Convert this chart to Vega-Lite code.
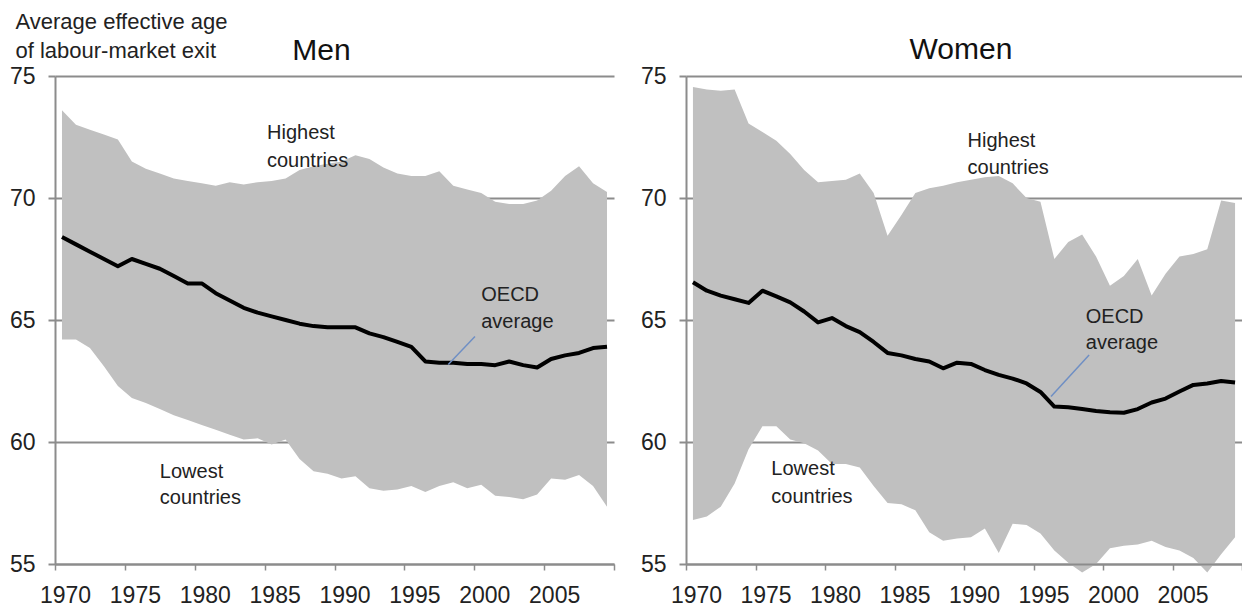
{
  "$schema": "https://vega.github.io/schema/vega-lite/v6.json",
  "autosize": {"type": "pad"},
  "padding": {"left": 9, "top": 10, "right": 0, "bottom": 0},
  "bounds": "flush",
  "spacing": 72,
  "config": {
    "font": "Liberation Sans",
    "view": {"stroke": null}
  },
  "datasets": {
    "series": [
      {"sex": "Men", "year": 1970, "low": 64.2, "avg": 68.4, "high": 73.6},
      {"sex": "Men", "year": 1971, "low": 64.2, "avg": 68.1, "high": 73.0},
      {"sex": "Men", "year": 1972, "low": 63.85, "avg": 67.8, "high": 72.8},
      {"sex": "Men", "year": 1973, "low": 63.1, "avg": 67.5, "high": 72.6},
      {"sex": "Men", "year": 1974, "low": 62.3, "avg": 67.2, "high": 72.4},
      {"sex": "Men", "year": 1975, "low": 61.8, "avg": 67.5, "high": 71.5},
      {"sex": "Men", "year": 1976, "low": 61.6, "avg": 67.3, "high": 71.2},
      {"sex": "Men", "year": 1977, "low": 61.35, "avg": 67.1, "high": 71.0},
      {"sex": "Men", "year": 1978, "low": 61.1, "avg": 66.8, "high": 70.8},
      {"sex": "Men", "year": 1979, "low": 60.9, "avg": 66.5, "high": 70.7},
      {"sex": "Men", "year": 1980, "low": 60.7, "avg": 66.5, "high": 70.6},
      {"sex": "Men", "year": 1981, "low": 60.5, "avg": 66.1, "high": 70.5},
      {"sex": "Men", "year": 1982, "low": 60.3, "avg": 65.8, "high": 70.65},
      {"sex": "Men", "year": 1983, "low": 60.1, "avg": 65.5, "high": 70.55},
      {"sex": "Men", "year": 1984, "low": 60.15, "avg": 65.3, "high": 70.65},
      {"sex": "Men", "year": 1985, "low": 59.9, "avg": 65.15, "high": 70.7},
      {"sex": "Men", "year": 1986, "low": 60.1, "avg": 65.0, "high": 70.8},
      {"sex": "Men", "year": 1987, "low": 59.3, "avg": 64.85, "high": 71.15},
      {"sex": "Men", "year": 1988, "low": 58.8, "avg": 64.75, "high": 71.3},
      {"sex": "Men", "year": 1989, "low": 58.7, "avg": 64.7, "high": 71.4},
      {"sex": "Men", "year": 1990, "low": 58.5, "avg": 64.7, "high": 71.5},
      {"sex": "Men", "year": 1991, "low": 58.6, "avg": 64.7, "high": 71.75},
      {"sex": "Men", "year": 1992, "low": 58.1, "avg": 64.45, "high": 71.6},
      {"sex": "Men", "year": 1993, "low": 58.0, "avg": 64.3, "high": 71.25},
      {"sex": "Men", "year": 1994, "low": 58.05, "avg": 64.1, "high": 71.0},
      {"sex": "Men", "year": 1995, "low": 58.2, "avg": 63.9, "high": 70.9},
      {"sex": "Men", "year": 1996, "low": 57.95, "avg": 63.3, "high": 70.9},
      {"sex": "Men", "year": 1997, "low": 58.2, "avg": 63.25, "high": 71.1},
      {"sex": "Men", "year": 1998, "low": 58.35, "avg": 63.25, "high": 70.5},
      {"sex": "Men", "year": 1999, "low": 58.1, "avg": 63.2, "high": 70.35},
      {"sex": "Men", "year": 2000, "low": 58.25, "avg": 63.2, "high": 70.2},
      {"sex": "Men", "year": 2001, "low": 57.8, "avg": 63.15, "high": 69.85},
      {"sex": "Men", "year": 2002, "low": 57.75, "avg": 63.3, "high": 69.75},
      {"sex": "Men", "year": 2003, "low": 57.65, "avg": 63.15, "high": 69.75},
      {"sex": "Men", "year": 2004, "low": 57.85, "avg": 63.05, "high": 69.9},
      {"sex": "Men", "year": 2005, "low": 58.5, "avg": 63.4, "high": 70.3},
      {"sex": "Men", "year": 2006, "low": 58.45, "avg": 63.55, "high": 70.9},
      {"sex": "Men", "year": 2007, "low": 58.65, "avg": 63.65, "high": 71.3},
      {"sex": "Men", "year": 2008, "low": 58.2, "avg": 63.85, "high": 70.6},
      {"sex": "Men", "year": 2009, "low": 57.35, "avg": 63.9, "high": 70.25},
      {"sex": "Women", "year": 1970, "low": 56.8, "avg": 66.55, "high": 74.55},
      {"sex": "Women", "year": 1971, "low": 56.95, "avg": 66.2, "high": 74.45},
      {"sex": "Women", "year": 1972, "low": 57.35, "avg": 66.0, "high": 74.4},
      {"sex": "Women", "year": 1973, "low": 58.3, "avg": 65.85, "high": 74.45},
      {"sex": "Women", "year": 1974, "low": 59.7, "avg": 65.7, "high": 73.05},
      {"sex": "Women", "year": 1975, "low": 60.65, "avg": 66.2, "high": 72.7},
      {"sex": "Women", "year": 1976, "low": 60.65, "avg": 65.97, "high": 72.35},
      {"sex": "Women", "year": 1977, "low": 60.1, "avg": 65.72, "high": 71.8},
      {"sex": "Women", "year": 1978, "low": 59.95, "avg": 65.35, "high": 71.15},
      {"sex": "Women", "year": 1979, "low": 59.65, "avg": 64.9, "high": 70.65},
      {"sex": "Women", "year": 1980, "low": 59.1, "avg": 65.08, "high": 70.7},
      {"sex": "Women", "year": 1981, "low": 59.1, "avg": 64.75, "high": 70.75},
      {"sex": "Women", "year": 1982, "low": 58.95, "avg": 64.5, "high": 71.0},
      {"sex": "Women", "year": 1983, "low": 58.2, "avg": 64.1, "high": 70.2},
      {"sex": "Women", "year": 1984, "low": 57.5, "avg": 63.65, "high": 68.45},
      {"sex": "Women", "year": 1985, "low": 57.45, "avg": 63.55, "high": 69.3},
      {"sex": "Women", "year": 1986, "low": 57.2, "avg": 63.4, "high": 70.2},
      {"sex": "Women", "year": 1987, "low": 56.3, "avg": 63.3, "high": 70.4},
      {"sex": "Women", "year": 1988, "low": 55.95, "avg": 63.02, "high": 70.5},
      {"sex": "Women", "year": 1989, "low": 56.05, "avg": 63.25, "high": 70.65},
      {"sex": "Women", "year": 1990, "low": 56.1, "avg": 63.2, "high": 70.75},
      {"sex": "Women", "year": 1991, "low": 56.45, "avg": 62.95, "high": 70.85},
      {"sex": "Women", "year": 1992, "low": 55.45, "avg": 62.75, "high": 70.9},
      {"sex": "Women", "year": 1993, "low": 56.65, "avg": 62.6, "high": 70.6},
      {"sex": "Women", "year": 1994, "low": 56.6, "avg": 62.4, "high": 70.0},
      {"sex": "Women", "year": 1995, "low": 56.25, "avg": 62.05, "high": 69.85},
      {"sex": "Women", "year": 1996, "low": 55.55, "avg": 61.45, "high": 67.5},
      {"sex": "Women", "year": 1997, "low": 55.05, "avg": 61.42, "high": 68.2},
      {"sex": "Women", "year": 1998, "low": 54.65, "avg": 61.35, "high": 68.5},
      {"sex": "Women", "year": 1999, "low": 55.0, "avg": 61.27, "high": 67.6},
      {"sex": "Women", "year": 2000, "low": 55.65, "avg": 61.22, "high": 66.4},
      {"sex": "Women", "year": 2001, "low": 55.75, "avg": 61.2, "high": 66.8},
      {"sex": "Women", "year": 2002, "low": 55.8, "avg": 61.35, "high": 67.5},
      {"sex": "Women", "year": 2003, "low": 55.95, "avg": 61.62, "high": 66.0},
      {"sex": "Women", "year": 2004, "low": 55.7, "avg": 61.78, "high": 66.9},
      {"sex": "Women", "year": 2005, "low": 55.55, "avg": 62.07, "high": 67.6},
      {"sex": "Women", "year": 2006, "low": 55.25, "avg": 62.34, "high": 67.7},
      {"sex": "Women", "year": 2007, "low": 54.65, "avg": 62.4, "high": 67.9},
      {"sex": "Women", "year": 2008, "low": 55.4, "avg": 62.5, "high": 69.9},
      {"sex": "Women", "year": 2009, "low": 56.1, "avg": 62.44, "high": 69.8}
    ],
    "notes": [
      {"sex": "Men", "year": 1984.67, "value": 72.42, "label": "Highest"},
      {"sex": "Men", "year": 1984.67, "value": 71.27, "label": "countries"},
      {"sex": "Men", "year": 1977.0, "value": 58.51, "label": "Lowest"},
      {"sex": "Men", "year": 1977.0, "value": 57.45, "label": "countries"},
      {"sex": "Men", "year": 2000.0, "value": 65.79, "label": "OECD"},
      {"sex": "Men", "year": 2000.0, "value": 64.67, "label": "average"},
      {"sex": "Women", "year": 1989.76, "value": 72.08, "label": "Highest"},
      {"sex": "Women", "year": 1989.76, "value": 71.0, "label": "countries"},
      {"sex": "Women", "year": 1975.64, "value": 58.63, "label": "Lowest"},
      {"sex": "Women", "year": 1975.64, "value": 57.51, "label": "countries"},
      {"sex": "Women", "year": 1998.26, "value": 64.88, "label": "OECD"},
      {"sex": "Women", "year": 1998.26, "value": 63.81, "label": "average"}
    ],
    "leaders": [
      {"sex": "Men", "x1": 1997.64, "y1": 63.18, "x2": 1999.55, "y2": 64.32},
      {"sex": "Women", "x1": 1995.76, "y1": 61.86, "x2": 1998.5, "y2": 63.57}
    ]
  },
  "hconcat": [
    {
      "width": 559,
      "height": 488,
      "title": {"text": "Men", "fontSize": 30, "fontWeight": "normal", "color": "#111111", "baseline": "alphabetic", "offset": -80, "dx": -13, "anchor": "middle", "frame": "group"},
      "layer": [
        {
          "data": {"name": "series"},
          "transform": [{"filter": "datum.sex === 'Men'"}],
          "mark": {"type": "area", "color": "#c0c0c0", "opacity": 1},
          "encoding": {
            "x": {"field": "year", "type": "quantitative", "scale": {"domain": [1969.5, 2009.5], "nice": false, "zero": false},
              "axis": {"values": [1969.5, 1974.5, 1979.5, 1984.5, 1989.5, 1994.5, 1999.5, 2004.5, 2009.5], "labelExpr": "datum.value > 2008 ? '' : format(datum.value + 0.5, 'd')", "labelOffset": 10, "labelFlush": false, "labelOverlap": false, "labelBound": false, "grid": false, "domainColor": "#8c8c8c", "domainWidth": 2, "tickColor": "#8c8c8c", "tickWidth": 1.5, "tickSize": 6, "labelFontSize": 23, "labelColor": "#222222", "labelPadding": 14, "title": null, "zindex": 1}},
            "y": {"field": "low", "type": "quantitative", "scale": {"domain": [55, 75], "nice": false, "zero": false},
              "axis": {"values": [55, 60, 65, 70, 75], "grid": true, "gridColor": "#8c8c8c", "gridWidth": 2, "domainColor": "#8c8c8c", "domainWidth": 2, "tickColor": "#8c8c8c", "tickWidth": 2, "tickSize": 7, "labelFontSize": 23, "labelPadding": 13, "labelColor": "#222222", "labelFlush": false, "labelBound": false, "zindex": 0,
                "title": ["Average effective age", "of labour-market exit"], "titleAngle": 0, "titleAlign": "left", "titleBaseline": "alphabetic", "titleX": -40, "titleY": -48, "titleFontSize": 22, "titleFontWeight": "normal", "titleColor": "#222222", "titleLineHeight": 29}},
            "y2": {"field": "high"}
          }
        },
        {
          "data": {"name": "series"},
          "transform": [{"filter": "datum.sex === 'Men'"}],
          "mark": {"type": "line", "color": "#000000", "strokeWidth": 4, "strokeJoin": "round"},
          "encoding": {
            "x": {"field": "year", "type": "quantitative"},
            "y": {"field": "avg", "type": "quantitative"}
          }
        },
        {
          "data": {"name": "leaders"},
          "transform": [{"filter": "datum.sex === 'Men'"}],
          "mark": {"type": "rule", "color": "#6f8fc4", "strokeWidth": 1.5},
          "encoding": {
            "x": {"field": "x1", "type": "quantitative"},
            "y": {"field": "y1", "type": "quantitative"},
            "x2": {"field": "x2"},
            "y2": {"field": "y2"}
          }
        },
        {
          "data": {"name": "notes"},
          "transform": [{"filter": "datum.sex === 'Men'"}],
          "mark": {"type": "text", "align": "left", "baseline": "alphabetic", "fontSize": 20, "color": "#222222"},
          "encoding": {
            "x": {"field": "year", "type": "quantitative"},
            "y": {"field": "value", "type": "quantitative"},
            "text": {"field": "label"}
          }
        }
      ]
    },
    {
      "width": 556,
      "height": 488,
      "title": {"text": "Women", "fontSize": 30, "fontWeight": "normal", "color": "#111111", "baseline": "alphabetic", "offset": -24, "dx": -3, "anchor": "middle", "frame": "group"},
      "layer": [
        {
          "data": {"name": "series"},
          "transform": [{"filter": "datum.sex === 'Women'"}],
          "mark": {"type": "area", "color": "#c0c0c0", "opacity": 1},
          "encoding": {
            "x": {"field": "year", "type": "quantitative", "scale": {"domain": [1969.5, 2009.5], "nice": false, "zero": false},
              "axis": {"values": [1969.5, 1974.5, 1979.5, 1984.5, 1989.5, 1994.5, 1999.5, 2004.5, 2009.5], "labelExpr": "datum.value > 2008 ? '' : format(datum.value + 0.5, 'd')", "labelOffset": 10, "labelFlush": false, "labelOverlap": false, "labelBound": false, "grid": false, "domainColor": "#8c8c8c", "domainWidth": 2, "tickColor": "#8c8c8c", "tickWidth": 1.5, "tickSize": 6, "labelFontSize": 23, "labelColor": "#222222", "labelPadding": 14, "title": null, "zindex": 1}},
            "y": {"field": "low", "type": "quantitative", "scale": {"domain": [55, 75], "nice": false, "zero": false},
              "axis": {"values": [55, 60, 65, 70, 75], "grid": true, "gridColor": "#8c8c8c", "gridWidth": 2, "domainColor": "#8c8c8c", "domainWidth": 2, "tickColor": "#8c8c8c", "tickWidth": 2, "tickSize": 7, "labelFontSize": 23, "labelPadding": 13, "labelColor": "#222222", "labelFlush": false, "labelBound": false, "zindex": 0, "title": null}},
            "y2": {"field": "high"}
          }
        },
        {
          "data": {"name": "series"},
          "transform": [{"filter": "datum.sex === 'Women'"}],
          "mark": {"type": "line", "color": "#000000", "strokeWidth": 4, "strokeJoin": "round"},
          "encoding": {
            "x": {"field": "year", "type": "quantitative"},
            "y": {"field": "avg", "type": "quantitative"}
          }
        },
        {
          "data": {"name": "leaders"},
          "transform": [{"filter": "datum.sex === 'Women'"}],
          "mark": {"type": "rule", "color": "#6f8fc4", "strokeWidth": 1.5},
          "encoding": {
            "x": {"field": "x1", "type": "quantitative"},
            "y": {"field": "y1", "type": "quantitative"},
            "x2": {"field": "x2"},
            "y2": {"field": "y2"}
          }
        },
        {
          "data": {"name": "notes"},
          "transform": [{"filter": "datum.sex === 'Women'"}],
          "mark": {"type": "text", "align": "left", "baseline": "alphabetic", "fontSize": 20, "color": "#222222"},
          "encoding": {
            "x": {"field": "year", "type": "quantitative"},
            "y": {"field": "value", "type": "quantitative"},
            "text": {"field": "label"}
          }
        }
      ]
    }
  ]
}
